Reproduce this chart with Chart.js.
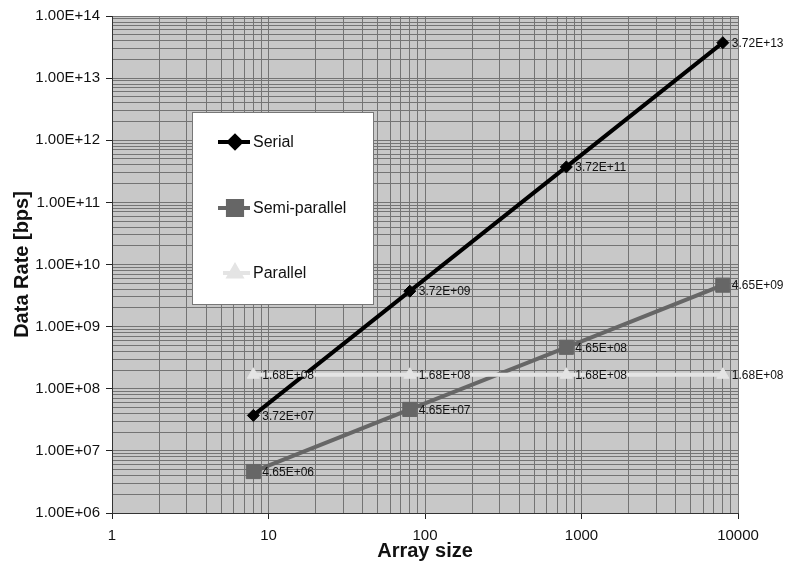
<!DOCTYPE html>
<html><head><meta charset="utf-8">
<script src="https://cdn.jsdelivr.net/npm/chart.js@4/dist/chart.umd.min.js"></script>
<style>html,body{margin:0;padding:0;background:#fff;overflow:hidden}#wrap{width:786px;height:571px;position:relative}</style>
</head><body><div id="wrap"><canvas id="c" width="786" height="571"></canvas></div>
<script>
// ---- data ----
const arraySizes = [8, 80, 800, 8000];
const serialRates = [3.72e7, 3.72e9, 3.72e11, 3.72e13];
const semiParallelRates = [4.65e6, 4.65e7, 4.65e8, 4.65e9];
const parallelRates = [1.68e8, 1.68e8, 1.68e8, 1.68e8];
const seriesNames = ['Serial', 'Semi-parallel', 'Parallel'];
const xDecades = [1, 10, 100, 1000, 10000];
const xTickLabels = ['1', '10', '100', '1000', '10000'];
const yDecades = [1e6, 1e7, 1e8, 1e9, 1e10, 1e11, 1e12, 1e13, 1e14];
const yTickLabels = ['1.00E+06', '1.00E+07', '1.00E+08', '1.00E+09', '1.00E+10', '1.00E+11', '1.00E+12', '1.00E+13', '1.00E+14'];
const minorMultipliers = [2, 3, 4, 5, 6, 7, 8, 9];
const xTitle = 'Array size';
const yTitle = 'Data Rate [bps]';

const FONT = '"Liberation Sans", Arial, Helvetica, sans-serif';

function fmtSci(v) {
  const parts = v.toExponential(2).split('e');
  const n = parseInt(parts[1], 10);
  return parts[0] + 'E' + (n < 0 ? '-' : '+') + String(Math.abs(n)).padStart(2, '0');
}
function makeTicks(decades) {
  const t = [];
  decades.forEach((d, i) => {
    t.push({ value: d, major: true });
    if (i < decades.length - 1) minorMultipliers.forEach(m => t.push({ value: d * m, major: false }));
  });
  return t;
}
function labelFor(v, decades, labels) {
  const i = decades.indexOf(v);
  return i >= 0 ? labels[i] : '';
}
function pts(ys) { return arraySizes.map((x, i) => ({ x: x, y: ys[i] })); }

const styles = [
  { color: '#000000', point: 'rectRot', r: 6, width: 4 },
  { color: '#666666', point: 'rect', r: 10, width: 4 },
  { color: '#e4e4e4', point: 'triangle', r: 7, width: 4 }
];

const plotBg = {
  id: 'plotBg',
  beforeDraw(chart) {
    const a = chart.chartArea, ctx = chart.ctx;
    ctx.save();
    ctx.fillStyle = '#c8c8c8';
    ctx.fillRect(a.left, a.top, a.right - a.left, a.bottom - a.top);
    ctx.restore();
  }
};

const pointLabels = {
  id: 'pointLabels',
  afterDatasetsDraw(chart) {
    const ctx = chart.ctx;
    ctx.save();
    ctx.font = '12px ' + FONT;
    ctx.fillStyle = '#111';
    ctx.textBaseline = 'middle';
    ctx.textAlign = 'left';
    chart.data.datasets.forEach((ds, i) => {
      const meta = chart.getDatasetMeta(i);
      meta.data.forEach((p, j) => {
        ctx.fillText(fmtSci(ds.data[j].y), p.x + 9, p.y + 1);
      });
    });
    ctx.restore();
  }
};

const boxLegend = {
  id: 'boxLegend',
  afterDraw(chart) {
    const a = chart.chartArea, ctx = chart.ctx;
    const L = a.left + 80, T = a.top + 96, W = 181, H = 192;
    ctx.save();
    ctx.fillStyle = '#ffffff';
    ctx.fillRect(L, T, W, H);
    ctx.strokeStyle = '#777';
    ctx.lineWidth = 1;
    ctx.strokeRect(L + 0.5, T + 0.5, W, H);
    const rows = [30, 96, 161];
    chart.data.datasets.forEach((ds, i) => {
      const y = T + rows[i];
      const st = styles[i];
      ctx.strokeStyle = st.color;
      ctx.lineWidth = st.width;
      ctx.beginPath();
      ctx.moveTo(L + (i === 2 ? 31 : 26), y);
      ctx.lineTo(L + 58, y);
      ctx.stroke();
      ctx.fillStyle = st.color;
      Chart.helpers.drawPoint(ctx, { pointStyle: st.point, radius: st.r, borderWidth: 1, rotation: 0 }, L + 43, y);
      ctx.fillStyle = '#111';
      ctx.font = '16px ' + FONT;
      ctx.textBaseline = 'middle';
      ctx.textAlign = 'left';
      ctx.fillText(ds.label, L + 61, y + 1);
    });
    ctx.restore();
  }
};

const datasets = [serialRates, semiParallelRates, parallelRates].map((ys, i) => ({
  label: seriesNames[i],
  data: pts(ys),
  borderColor: styles[i].color,
  backgroundColor: styles[i].color,
  borderWidth: styles[i].width,
  pointStyle: styles[i].point,
  pointRadius: styles[i].r,
  pointBackgroundColor: styles[i].color,
  pointBorderColor: styles[i].color,
  pointBorderWidth: 1,
  tension: 0,
  fill: false,
  order: 3 - i
}));

const tickColorFn = c => (c.tick && c.tick.major) ? '#222' : 'rgba(0,0,0,0)';

new Chart(document.getElementById('c'), {
  type: 'line',
  data: { datasets: datasets },
  options: {
    responsive: false,
    animation: false,
    devicePixelRatio: 1,
    layout: { padding: { top: 16, right: 48, left: 0, bottom: 0 } },
    plugins: { legend: { display: false }, tooltip: { enabled: false } },
    scales: {
      x: {
        type: 'logarithmic', position: 'bottom', min: 1, max: 10000,
        afterBuildTicks: s => { s.ticks = makeTicks(xDecades); },
        afterFit: s => { s.height = 58; },
        grid: { color: '#747474', lineWidth: 1, drawTicks: true, tickLength: 6, tickColor: tickColorFn },
        border: { color: '#333', width: 1 },
        ticks: { autoSkip: false, maxRotation: 0, minRotation: 0, padding: 8, color: '#111', font: { family: FONT, size: 15 },
          callback: v => labelFor(v, xDecades, xTickLabels) },
        title: { display: true, text: xTitle, color: '#111', font: { family: FONT, size: 20, weight: 'bold' }, padding: { top: 0, bottom: 8 } }
      },
      y: {
        type: 'logarithmic', position: 'left', min: 1e6, max: 1e14,
        afterBuildTicks: s => { s.ticks = makeTicks(yDecades); },
        afterFit: s => { s.width = 112; },
        grid: { color: '#747474', lineWidth: 1, drawTicks: true, tickLength: 6, tickColor: tickColorFn },
        border: { color: '#333', width: 1 },
        ticks: { autoSkip: false, padding: 6, color: '#111', font: { family: FONT, size: 15 },
          callback: v => labelFor(v, yDecades, yTickLabels) },
        title: { display: true, text: yTitle, color: '#111', font: { family: FONT, size: 20, weight: 'bold' }, padding: { top: 10, bottom: 0 } }
      }
    }
  },
  plugins: [plotBg, pointLabels, boxLegend]
});
</script>
</body></html>
